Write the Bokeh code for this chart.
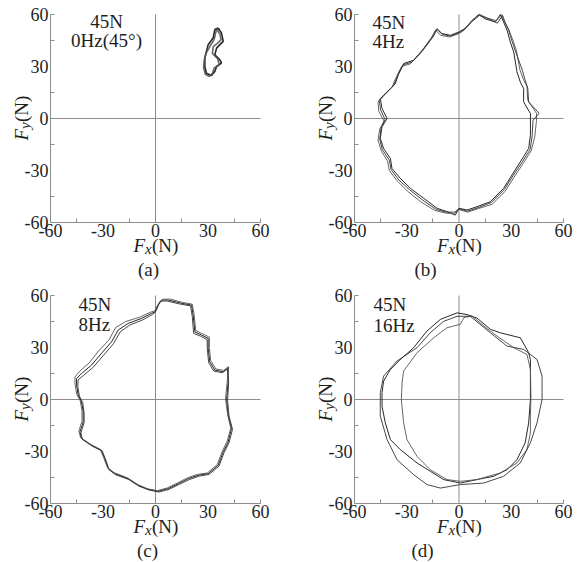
import math
from bokeh.plotting import figure
from bokeh.models import FixedTicker, Label, Range1d
from bokeh.layouts import column, row
from bokeh.embed import file_html
from bokeh.resources import INLINE

# ---------------- data ----------------
tick_values = [-60, -30, 0, 30, 60]
tick_labels = ["-60", "-30", "0", "30", "60"]
minor_values = [-45, -15, 15, 45, 60]

captions = ["(a)", "(b)", "(c)", "(d)"]
load_text = ["45N", "45N", "45N", "45N"]
freq_text = ["0Hz(45\u00b0)", "4Hz", "8Hz", "16Hz"]

# panel (a): 0 Hz, 45 deg
ax1 = [35.8, 37.7, 38.7, 36.8, 34.9, 33.9, 36.8, 37.7, 34.9, 33.9, 32, 29.1, 28.2, 28.2, 29.1, 30.1, 32.9, 33.9, 35.8]
ay1 = [52.2, 49.3, 44.5, 42.6, 40.6, 36.8, 33.8, 31.9, 30, 27.1, 24.8, 26.1, 30, 34.8, 38.7, 42.6, 46.4, 51.3, 52.2]
ax2 = [35, 36.8, 37.5, 35.5, 33, 32.5, 35.5, 36.5, 33.5, 32.5, 30.8, 28.5, 27.5, 27.8, 28.8, 31, 33.5, 34.5, 35]
ay2 = [51.5, 48.5, 45.5, 43.5, 41.5, 37.5, 34.5, 31, 29, 26, 24.2, 25.5, 29, 33.5, 37.5, 41.5, 45.5, 50, 51.5]

# panel (b): 4 Hz
bx1 = [23.7, 20.9, 15.0, 11.3, 7.5, 3.5, 0, -5, -9.8, -12.6, -14.5, -20.3, -26, -31.8, -34.6, -36.6, -41.3, -45.2, -44.2, -41.3, -44.2, -45.2, -43.3, -39.4, -38.5, -33.7, -27.9, -20.3, -12.6, -6.9, -2.1, 0, 4.6, 10.3, 18, 25.6, 30.4, 35.2, 40, 41, 41, 41, 37.1, 37.1, 35.2, 33.3, 31.4, 29.5, 27.6, 25.6, 23.7]
by1 = [60, 55.7, 57.5, 60, 56.6, 52, 49.9, 48, 49, 51.8, 48, 40.3, 33.6, 31.7, 26, 20, 15.4, 11.5, 5.8, 0, -4.8, -11.5, -17.3, -23, -28.8, -34.5, -40.3, -46, -51.8, -53.7, -55.7, -51.8, -52.8, -50.9, -48, -40.3, -32.6, -25, -17.3, -9.6, 0, 2.9, 9.6, 17.3, 21, 26.9, 38.4, 44, 50.9, 55.7, 60]
bx2 = [24.5, 21.5, 16, 12, 8, 3, 0, -5.5, -10.5, -13.5, -16, -22, -28, -33, -36, -38.5, -43, -46.5, -46, -43, -45.5, -46.5, -44.5, -41, -40, -35.5, -29.5, -22, -14, -8, -3, 0, 5, 11, 19, 26.5, 31.5, 36.5, 41.5, 43.5, 44.5, 44.5, 39.5, 39, 37, 35, 33, 31, 28.5, 26, 24.5]
by2 = [60, 56.5, 58, 60, 57, 51, 49, 47, 48, 51, 46.5, 38, 31.5, 30, 24, 18, 13.5, 9.5, 4, -1.5, -6, -12.5, -19, -24.5, -30, -36, -42, -48, -53, -54.5, -55, -52.5, -54, -52, -49.5, -42, -34, -26.5, -18.5, -10.5, -1, 3, 10.5, 18.5, 22.5, 28, 39, 45, 51.5, 56, 60]
bx3 = [25, 22, 16.5, 11.8, 7.8, 3.2, 0, -4.8, -9.5, -12.8, -15, -21, -27, -32, -35, -37.5, -42, -45.8, -45, -42.5, -44.8, -45.5, -44, -40, -39, -34.5, -28.5, -21, -13, -7.5, -2.5, 0, 4.8, 10.8, 18.5, 26, 31, 36, 40.8, 42, 42.5, 46, 40, 39.5, 38, 36.5, 32.5, 30.5, 28.5, 26.5, 25]
by3 = [59.5, 55, 57.8, 59.5, 56.2, 51.5, 49.5, 47.5, 48.5, 51.5, 47, 39, 32.5, 31, 25, 19, 14.5, 10.5, 5, -0.5, -5.5, -12, -18, -24, -29.5, -35.5, -41, -47, -52.5, -54, -54, -52, -53.5, -51.5, -48.5, -41, -33, -25.5, -18, -10, -1, 3, 9.5, 17.5, 22, 27.5, 38.5, 44.5, 51, 55.5, 59.5]

# panel (c): 8 Hz
cx1 = [0, 1.5, 3.4, 7.2, 14.9, 20.6, 21.5, 22.5, 26.3, 30.1, 30.1, 31, 33.9, 38.7, 41.5, 41.5, 40.6, 41.5, 43.4, 41.5, 38.7, 35.8, 30.1, 24.4, 18.7, 13, 7.2, 1.5, -4.2, -9.9, -15.6, -23.2, -27, -29, -30.9, -36.6, -42.3, -43.2, -41.3, -41.3, -42.3, -44.2, -45.1, -45.1, -42.3, -36.6, -30.9, -25.1, -21.3, -15.6, -8, -2.3, 0]
cy1 = [50.7, 54.5, 57.4, 57.4, 55.5, 54.5, 48.7, 39, 37.2, 35.3, 29.5, 21.8, 17, 16, 18.3, 10.2, 0, -9, -16.8, -24.5, -30.2, -38, -42.8, -43.7, -45.7, -48.6, -51.4, -53, -51.8, -49.5, -45.7, -42.8, -39.9, -34.1, -29.3, -26.4, -22.5, -18.7, -12.9, -7.1, -1.3, 2.5, 8.3, 12.1, 15, 19.8, 26.6, 33.3, 40.1, 43.9, 46.8, 49.7, 50.7]
cx2 = [0.5, 2, 4, 8, 15.5, 21, 22, 23, 27, 30.8, 30.8, 31.5, 34.5, 39, 41.8, 41, 40, 41.2, 43, 41, 38.2, 35.3, 29.6, 24, 18.2, 12.5, 6.8, 1, -4.6, -10.3, -16, -23.6, -27.5, -29.6, -31.5, -37.2, -42.8, -43.8, -42, -42, -43, -45, -46, -46, -43.5, -38, -32.5, -26.5, -22.8, -17, -9, -3, 0.5]
cy2 = [51.5, 55, 57.8, 58, 56, 55, 49.5, 39.8, 37.8, 36, 30, 22.5, 17.6, 16.8, 19, 10.5, 0.5, -8.5, -16.5, -24, -29.8, -37.5, -42.4, -43.2, -45.2, -48.2, -51, -52.6, -51.5, -49, -45.2, -42.2, -39.2, -33.6, -28.8, -25.8, -22, -18.2, -12.5, -6.6, -0.8, 3, 9, 13, 16.2, 21, 28, 34.5, 41.5, 45, 47.5, 50.3, 51.5]
cx3 = [-0.5, 1, 2.8, 6.6, 14.3, 20, 21, 21.8, 25.6, 29.5, 29.6, 30.4, 33.3, 38.2, 41, 41.8, 41.2, 42, 44, 42, 39.2, 36.3, 30.6, 25, 19.3, 13.5, 7.8, 2, -3.8, -9.5, -15.2, -22.8, -26.6, -28.5, -30.4, -36, -41.8, -42.6, -40.8, -40.8, -41.6, -43.5, -44.4, -44.2, -41, -35.4, -29.8, -24, -20.2, -14.6, -7.2, -1.8, -0.5]
cy3 = [50, 54, 56.8, 56.8, 55, 54, 48, 38.2, 36.6, 34.6, 29, 21.2, 16.4, 15.4, 17.6, 9.8, -0.4, -9.5, -17.2, -25, -30.6, -38.4, -43.2, -44.2, -46.2, -49, -51.8, -53.4, -52.2, -50, -46.2, -43.4, -40.5, -34.6, -29.8, -27, -23, -19.2, -13.4, -7.6, -1.8, 2, 7.6, 11.4, 14, 18.8, 25.4, 32.2, 39, 43, 46, 49, 50]

# panel (d): 16 Hz
dx1 = [-1.1, 4.6, 10.3, 18, 23.7, 35.2, 40, 41, 41, 41, 40, 38, 33.3, 27.6, 19.9, 10.3, 0.8, -8.8, -16.5, -24.1, -33.7, -39.4, -42.3, -44.2, -44.2, -43.3, -39.4, -33.7, -26, -18.4, -10.7, -1.1]
dy1 = [50, 49, 47, 40.5, 38.5, 35.6, 27, 23, 9.6, 0, -13.5, -25, -34.7, -40.5, -44.3, -46.2, -48.2, -46.2, -41.4, -36.6, -28.9, -23.1, -13.5, -3.9, 3.9, 10.6, 17.3, 23.1, 29.9, 39.5, 46.2, 50]
dx2 = [0.8, -6.9, -14.5, -24.1, -31.8, -32.7, -33.1, -31.8, -29.9, -24.1, -16.5, -6.9, 0.8, 10.3, 23.7, 33.3, 39, 41, 41, 41.3, 41, 39, 31.4, 21.8, 14.2, 7.5, 2.7, 0.8]
dy2 = [43.4, 41.4, 35.6, 27, 16.4, 9.6, 0, -13.5, -23.1, -32.8, -40.5, -46.2, -47.2, -46.2, -42.4, -36.6, -28.9, -19.3, -9.6, 1.9, 17.3, 26, 29.9, 36.6, 42.4, 48.2, 47.2, 43.4]
dx3 = [-1.1, 6.5, 18, 27.6, 37.1, 44.8, 47.7, 47.7, 44.8, 41, 35.2, 25.6, 14.2, 0.8, -10.7, -18.4, -26, -35.6, -41.3, -45.2, -45.2, -43.3, -35.6, -24.1, -16.5, -8.8, -1.1]
dy3 = [48, 48, 38.5, 30.8, 28.9, 23.1, 13.5, 0, -13.5, -25, -36.6, -44.3, -48.2, -49.1, -51.1, -49.1, -43.4, -34.7, -23.1, -9.6, 3.9, 13.5, 22.2, 29.9, 38.5, 45.1, 48]

# ---------------- styling ----------------
FONT = "Liberation Serif"
GRAY = "#8c8c8c"
INK = "#1e1e1e"
TRACE_COLORS = ["#111111", "#555555", "#333333"]
FIG_W = 290
SHIFT = 6  # compensation between requested and rendered baseline


def lab(p, x, y, text, size="19px", style="normal", align="left", angle=0.0):
    # x, y in canvas pixels (x from left, y from bottom); frame == canvas
    if angle == 0.0:
        y = y + SHIFT
    else:
        x = x - SHIFT
    p.add_layout(Label(x=x, y=y, x_units="screen", y_units="screen", text=text,
                       text_font=FONT, text_font_size=size, text_font_style=style,
                       text_color=INK, text_align=align, text_baseline="alphabetic",
                       angle=angle))


def make_panel(loops, idx, L, R, T, B, H, cap_x, note_x, note_align, note_td1, note_td2,
               cap_td=275, lw=1.0):
    lo, hi = tick_values[0], tick_values[-1]
    span = hi - lo
    sx = (R - L) / span
    sy = (B - T) / span
    xr = Range1d(lo - L / sx, hi + (FIG_W - R) / sx)
    yr = Range1d(lo - (H - B) / sy, hi + T / sy)
    p = figure(width=FIG_W, height=H, x_range=xr, y_range=yr,
               output_backend="svg", toolbar_location=None,
               min_border=0, min_border_left=0, min_border_right=0,
               min_border_top=0, min_border_bottom=0)
    if p.title is not None:
        p.title.visible = False
    p.outline_line_color = None
    p.grid.visible = False
    p.xaxis.fixed_location = lo
    p.yaxis.fixed_location = lo
    for axis in (p.xaxis[0], p.yaxis[0]):
        axis.bounds = (lo, hi)
        axis.ticker = FixedTicker(ticks=tick_values, minor_ticks=minor_values)
        axis.major_label_overrides = {v: t for v, t in zip(tick_values, tick_labels)}
        axis.major_tick_in = 0
        axis.major_tick_out = 0
        axis.minor_tick_in = 4
        axis.minor_tick_out = 0
        axis.axis_line_color = GRAY
        axis.minor_tick_line_color = GRAY
        axis.major_label_text_font = FONT
        axis.major_label_text_font_size = "18px"
        axis.major_label_text_color = INK
    p.xaxis.major_label_standoff = 1
    p.yaxis.major_label_standoff = 2

    # centre cross-hair lines at 0 spanning the axis extent
    p.segment(x0=[lo, 0], y0=[0, lo], x1=[hi, 0], y1=[0, hi], line_color=GRAY, line_width=1)

    for k, (xs, ys) in enumerate(loops):
        p.line(xs, ys, line_color=TRACE_COLORS[k % 3], line_width=lw, line_alpha=0.9)

    # x axis label  F_x (N)
    cx = (L + R) / 2
    base = H - B - 29
    lab(p, cx - 22, base, "F", style="italic")
    lab(p, cx - 10.5, base - 3, "x", size="15px", style="italic")
    lab(p, cx - 3.5, base, "(N)")
    # y axis label  F_y (N)  (rotated)
    cy = H - (T + B) / 2
    rot = math.pi / 2
    lab(p, L - 23, cy - 22, "F", style="italic", angle=rot)
    lab(p, L - 20, cy - 10.5, "y", size="15px", style="italic", angle=rot)
    lab(p, L - 23, cy - 3.5, "(N)", angle=rot)

    # caption
    lab(p, cap_x, H - cap_td, captions[idx], align="center")
    # notes
    lab(p, note_x, H - note_td1, load_text[idx], align=note_align)
    lab(p, note_x, H - note_td2, freq_text[idx], align=note_align)
    return p


pa = make_panel([(ax1, ay1), (ax2, ay2)], 0, 50, 260, 14, 222, 280,
                148, 106, "center", 27, 46, cap_td=275, lw=1.6)
pb = make_panel([(bx1, by1), (bx2, by2), (bx3, by3)], 1, 64, 273, 14, 222, 280,
                135, 82, "left", 28, 47, cap_td=275)
pc = make_panel([(cx1, cy1), (cx2, cy2), (cx3, cy3)], 2, 50, 260, 15, 223, 282,
                147, 78, "left", 30, 50, cap_td=276)
pd = make_panel([(dx1, dy1), (dx2, dy2), (dx3, dy3)], 3, 64, 273, 15, 223, 282,
                132, 83, "left", 30, 51, cap_td=276)

layout = column(row(pa, pb), row(pc, pd))
open("out.html", "w").write(file_html(layout, INLINE))
